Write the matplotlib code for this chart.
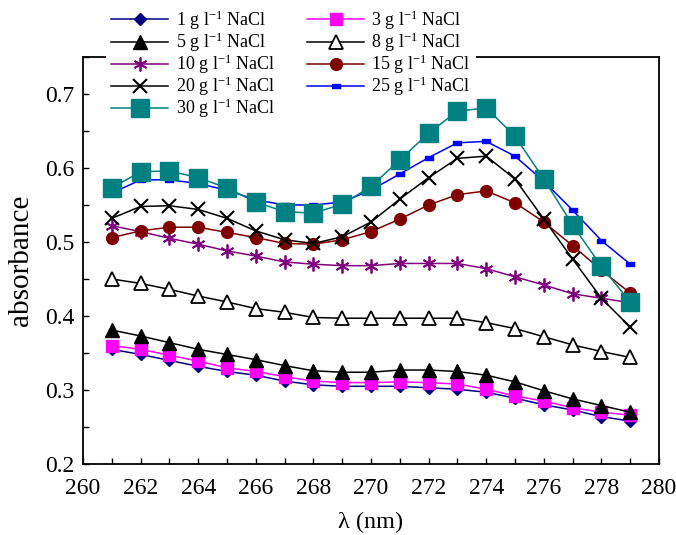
import matplotlib
matplotlib.use("Agg")
import matplotlib.pyplot as plt
from matplotlib.path import Path
from matplotlib.ticker import MultipleLocator

plt.rcParams['font.family'] = ['Liberation Serif', 'DejaVu Serif']
plt.rcParams['mathtext.fontset'] = 'custom'
plt.rcParams['mathtext.rm'] = 'Liberation Serif'
plt.rcParams['mathtext.it'] = 'Liberation Serif:italic'
plt.rcParams['mathtext.default'] = 'regular'

wavelength = [261, 262, 263, 264, 265, 266, 267, 268, 269, 270,
              271, 272, 273, 274, 275, 276, 277, 278, 279]

nacl_1 = [0.355, 0.348, 0.340, 0.332, 0.325, 0.320, 0.312, 0.307, 0.305, 0.305,
          0.305, 0.303, 0.301, 0.297, 0.289, 0.280, 0.273, 0.264, 0.258]
nacl_3 = [0.360, 0.355, 0.347, 0.339, 0.330, 0.325, 0.318, 0.312, 0.310, 0.310,
          0.311, 0.310, 0.308, 0.301, 0.292, 0.285, 0.276, 0.270, 0.266]
nacl_5 = [0.381, 0.373, 0.364, 0.355, 0.348, 0.341, 0.333, 0.326, 0.324, 0.324,
          0.327, 0.327, 0.325, 0.320, 0.311, 0.299, 0.288, 0.279, 0.270]
nacl_8 = [0.450, 0.444, 0.436, 0.427, 0.419, 0.410, 0.405, 0.398, 0.397, 0.397,
          0.397, 0.397, 0.397, 0.391, 0.383, 0.372, 0.361, 0.352, 0.344]
nacl_10 = [0.522, 0.514, 0.505, 0.497, 0.488, 0.481, 0.473, 0.470, 0.468, 0.468,
           0.471, 0.471, 0.471, 0.464, 0.453, 0.442, 0.430, 0.424, 0.418]
nacl_15 = [0.506, 0.515, 0.520, 0.520, 0.513, 0.506, 0.498, 0.497, 0.503, 0.514,
           0.531, 0.550, 0.564, 0.569, 0.553, 0.527, 0.495, 0.462, 0.431]
nacl_20 = [0.532, 0.548, 0.549, 0.544, 0.532, 0.515, 0.503, 0.498, 0.507, 0.527,
           0.558, 0.587, 0.613, 0.616, 0.585, 0.531, 0.477, 0.424, 0.385]
nacl_25 = [0.566, 0.584, 0.584, 0.579, 0.570, 0.557, 0.550, 0.550, 0.554, 0.570,
           0.592, 0.614, 0.634, 0.636, 0.616, 0.582, 0.543, 0.502, 0.470]
nacl_30 = [0.573, 0.595, 0.596, 0.587, 0.573, 0.554, 0.541, 0.539, 0.551, 0.575,
           0.611, 0.647, 0.677, 0.681, 0.643, 0.585, 0.523, 0.467, 0.419]

labels = [r"1 g l$^{-1}$ NaCl", r"3 g l$^{-1}$ NaCl", r"5 g l$^{-1}$ NaCl",
          r"8 g l$^{-1}$ NaCl", r"10 g l$^{-1}$ NaCl", r"15 g l$^{-1}$ NaCl",
          r"20 g l$^{-1}$ NaCl", r"25 g l$^{-1}$ NaCl", r"30 g l$^{-1}$ NaCl"]

dash = Path([(-1, -0.5), (1, -0.5), (1, 0.5), (-1, 0.5), (-1, -0.5)],
            [Path.MOVETO, Path.LINETO, Path.LINETO, Path.LINETO, Path.CLOSEPOLY])

styles = [
    dict(color='#000080', marker='D', ms=6.5, mfc='#000080', mec='#000080'),
    dict(color='#FF00FF', marker='s', ms=8, mfc='#FF00FF', mec='#FF00FF'),
    dict(color='black', marker='^', ms=9.5, mfc='black', mec='black'),
    dict(color='black', marker='^', ms=9.5, mfc='white', mec='black', mew=1.3),
    dict(color='#800080', marker=(6, 2, 0), ms=10, mec='#800080', mew=1.3),
    dict(color='#800000', marker='o', ms=8.5, mfc='#800000', mec='#800000'),
    dict(color='black', marker='x', ms=9.5, mec='black', mew=1.5),
    dict(color='#0000FF', marker=dash, ms=6, mfc='#0000FF', mec='#0000FF'),
    dict(color='#008080', marker='s', ms=13, mfc='#008080', mec='#008080'),
]

series = [nacl_1, nacl_3, nacl_5, nacl_8, nacl_10, nacl_15, nacl_20, nacl_25, nacl_30]

fig = plt.figure(figsize=(6.76, 5.35), dpi=100)
ax = fig.add_axes([83/676, 1 - 464/535, (659-83)/676, (464-57)/535])

handles = []
for ys, lab, st in zip(series, labels, styles):
    h, = ax.plot(wavelength, ys, lw=1.1, label=lab, zorder=3, clip_on=False, **st)
    handles.append(h)

ax.set_xlim(260, 280)
ax.set_ylim(0.2, 0.75)
ax.xaxis.set_major_locator(MultipleLocator(2))
ax.xaxis.set_minor_locator(MultipleLocator(1))
ax.yaxis.set_major_locator(MultipleLocator(0.1))
ax.yaxis.set_minor_locator(MultipleLocator(0.05))
ax.tick_params(which='both', direction='in', top=False, right=False,
               length=4.5, width=1.0, labelsize=17)
ax.tick_params(axis='x', which='both', pad=10)
ax.tick_params(axis='y', which='both', pad=6)
for sp in ax.spines.values():
    sp.set_linewidth(1.3)

ax.set_xlabel("λ (nm)", fontsize=17.5, labelpad=9)
ax.set_ylabel("absorbance", fontsize=21, labelpad=8)

order = [0, 2, 4, 6, 8, 1, 3, 5, 7]
leg = ax.legend([handles[i] for i in order], [labels[i] for i in order],
                ncol=2, loc='upper left', bbox_to_anchor=(106/676, 1 - 3/535),
                bbox_transform=fig.transFigure,
                fontsize=13, frameon=True, fancybox=False, numpoints=1,
                handlelength=3.15, handletextpad=0.4, columnspacing=1.8,
                labelspacing=-0.07, borderpad=0.3, borderaxespad=0)
leg.get_frame().set_edgecolor('none')
leg.get_frame().set_facecolor('white')
leg.get_frame().set_alpha(1)
leg.set_zorder(2.7)

fig.savefig("out.png", dpi=100)
